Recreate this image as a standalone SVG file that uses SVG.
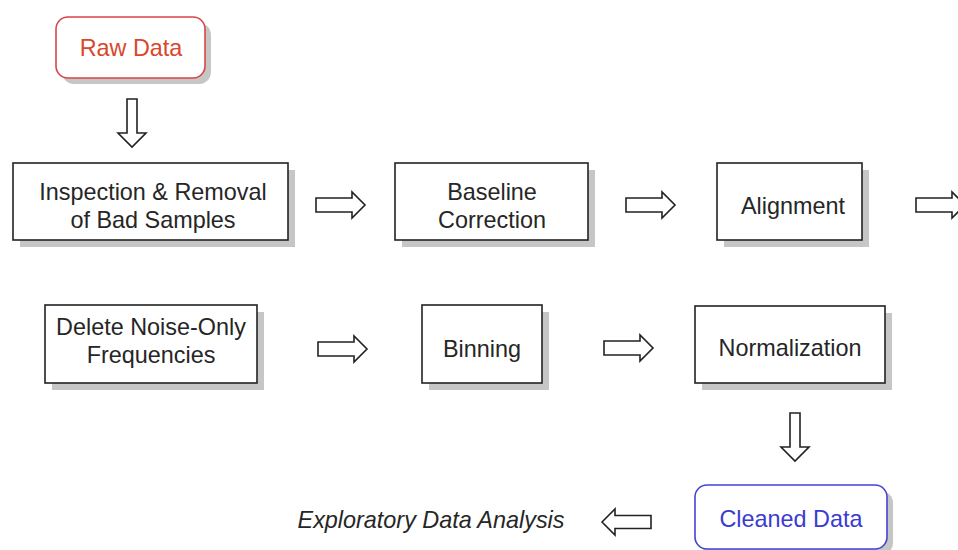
<svg xmlns="http://www.w3.org/2000/svg" width="958" height="550" viewBox="0 0 958 550">
<style>
.box{fill:#fff;stroke:#222;stroke-width:1.6}
.shadow{fill:#c6c6c6}
.t{font-family:"Liberation Sans",Arial,sans-serif;font-size:23.4px;fill:#262626;text-anchor:middle}
.arrow{fill:#fff;stroke:#222;stroke-width:1.6;stroke-linejoin:miter}
</style>
<defs>
<path id="ar" d="M0,-7 H36 V-13 L49,0 L36,13 V7 H0 Z"/>
<path id="ad" d="M-5,0 V34 H-14 L0,48 L14,34 H5 V0 Z"/>
<path id="al" d="M0,0 L13,-13 V-6.5 H49 V6.5 H13 V13 Z"/>
</defs>
<rect width="958" height="550" fill="#fff"/>
<g id="raw">
<rect class="shadow" x="62" y="23" width="149" height="61" rx="12"/>
<rect x="56" y="17" width="149" height="61" rx="12" fill="#fff" stroke="#d94545" stroke-width="1.6"/>
<text class="t" x="131" y="56" style="fill:#d9472b">Raw Data</text>
</g>
<g id="inspection">
<rect class="shadow" x="20" y="170" width="275" height="77"/>
<rect class="box" x="13" y="163" width="275" height="77"/>
<text class="t" x="153" y="200">Inspection &amp; Removal</text>
<text class="t" x="153" y="228">of Bad Samples</text>
</g>
<g id="baseline">
<rect class="shadow" x="402" y="170" width="193" height="77"/>
<rect class="box" x="395" y="163" width="193" height="77"/>
<text class="t" x="492" y="200">Baseline</text>
<text class="t" x="492" y="228">Correction</text>
</g>
<g id="alignment">
<rect class="shadow" x="724" y="170" width="145" height="77"/>
<rect class="box" x="717" y="163" width="145" height="77"/>
<text class="t" x="793" y="214">Alignment</text>
</g>
<g id="delete">
<rect class="shadow" x="52" y="312" width="212" height="78"/>
<rect class="box" x="45" y="305" width="212" height="78"/>
<text class="t" x="151" y="335">Delete Noise-Only</text>
<text class="t" x="151" y="363">Frequencies</text>
</g>
<g id="binning">
<rect class="shadow" x="429" y="312" width="120" height="78"/>
<rect class="box" x="422" y="305" width="120" height="78"/>
<text class="t" x="482" y="357">Binning</text>
</g>
<g id="normalization">
<rect class="shadow" x="702" y="313" width="190" height="77"/>
<rect class="box" x="695" y="306" width="190" height="77"/>
<text class="t" x="790" y="356">Normalization</text>
</g>
<g id="cleaned">
<rect class="shadow" x="701" y="491" width="192" height="64" rx="12"/>
<rect x="695" y="485" width="192" height="64" rx="12" fill="#fff" stroke="#4444d4" stroke-width="1.6"/>
<text class="t" x="791" y="527" style="fill:#3b3bd0">Cleaned Data</text>
</g>
<g id="eda">
<text class="t" x="431" y="528" style="font-style:italic">Exploratory Data Analysis</text>
</g>
<g id="connectors">
<use href="#ad" class="arrow" x="132" y="99"/>
<use href="#ar" class="arrow" x="316" y="205"/>
<use href="#ar" class="arrow" x="626" y="205"/>
<use href="#ar" class="arrow" x="916" y="205"/>
<use href="#ar" class="arrow" x="318" y="349"/>
<use href="#ar" class="arrow" x="604" y="348"/>
<use href="#ad" class="arrow" x="795" y="413"/>
<use href="#al" class="arrow" x="602" y="522"/>
</g>
</svg>
